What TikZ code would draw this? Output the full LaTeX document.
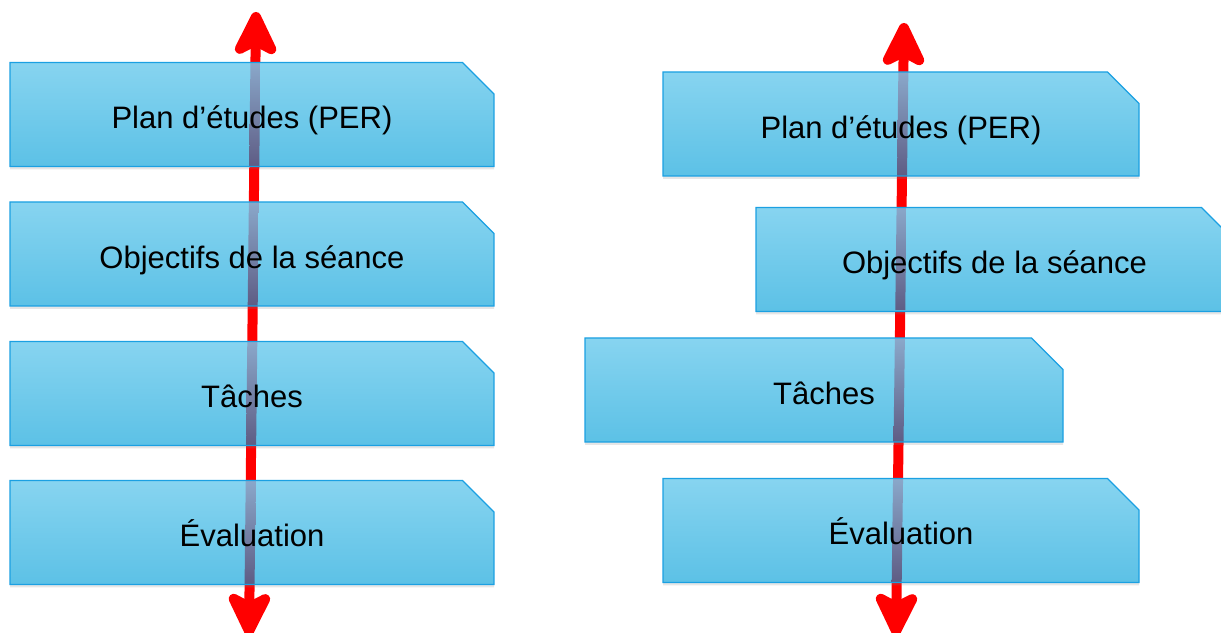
\documentclass[tikz,border=0pt]{standalone}
\usepackage{fontspec}
\setmainfont{Liberation Sans}
\usetikzlibrary{arrows.meta, shapes.misc, shadows, calc}

\definecolor{boxtop}{RGB}{135,212,240}
\definecolor{boxbot}{RGB}{92,193,230}
\definecolor{boxline}{RGB}{27,160,226}
\definecolor{striptop}{RGB}{138,168,202}
\definecolor{stripbot}{RGB}{94,92,132}

\begin{document}
\begin{tikzpicture}[x=1pt, y=1pt, >={Stealth[length=54pt, width=52pt, inset=13pt, round]},
		axis/.style={<->, red, line width=10pt},
		stage/.style={chamfered rectangle, chamfered rectangle corners=north east,
			chamfered rectangle xsep=17pt, chamfered rectangle ysep=17pt,
			draw=boxline, line width=1.2pt, top color=boxtop, bottom color=boxbot,
			drop shadow={shadow xshift=0pt, shadow yshift=-3pt, opacity=0.2},
			minimum width=476pt, minimum height=104pt, inner sep=0pt,
			text height=29pt, text depth=0pt, font=\fontsize{31}{37}\selectfont},
		across/.style 2 args={path picture={
			\path let \p1 = ($(#1)!(path picture bounding box.north)!(#2)$),
				\p2 = ($(#1)!(path picture bounding box.south)!(#2)$) in
				[top color=striptop, bottom color=stripbot]
				(\x1-5, \y1) -- (\x1+5, \y1) -- (\x2+5, \y2) -- (\x2-5, \y2) -- cycle;}}]
		\useasboundingbox (0, 0) rectangle (1221, 632);

		\coordinate (la) at (256, 620);
		\coordinate (lb) at (249, -4);
		\coordinate (ra) at (904, 609);
		\coordinate (rb) at (896, -4);

		\draw[axis] (lb) -- (la);
		\draw[axis] (rb) -- (ra);

		\node[stage, across={la}{lb}, minimum width=484pt] (l1) at (252, 517.5) {Plan d’études (PER)};
		\node[stage, across={la}{lb}, minimum width=484pt] (l2) at (252, 378) {Objectifs de la séance};
		\node[stage, across={la}{lb}, minimum width=484pt] (l3) at (252, 238.5) {Tâches};
		\node[stage, across={la}{lb}, minimum width=484pt] (l4) at (252, 99.5) {Évaluation};

		\node[stage, across={ra}{rb}] (r1) at (901, 508) {Plan d’études (PER)};
		\node[stage, across={ra}{rb}, minimum width=477pt] (r2) at (994.5, 372.5) {Objectifs de la séance};
		\node[stage, across={ra}{rb}, minimum width=478pt] (r3) at (824, 242) {Tâches};
		\node[stage, across={ra}{rb}] (r4) at (901, 101.5) {Évaluation};
	\end{tikzpicture}
\end{document}
